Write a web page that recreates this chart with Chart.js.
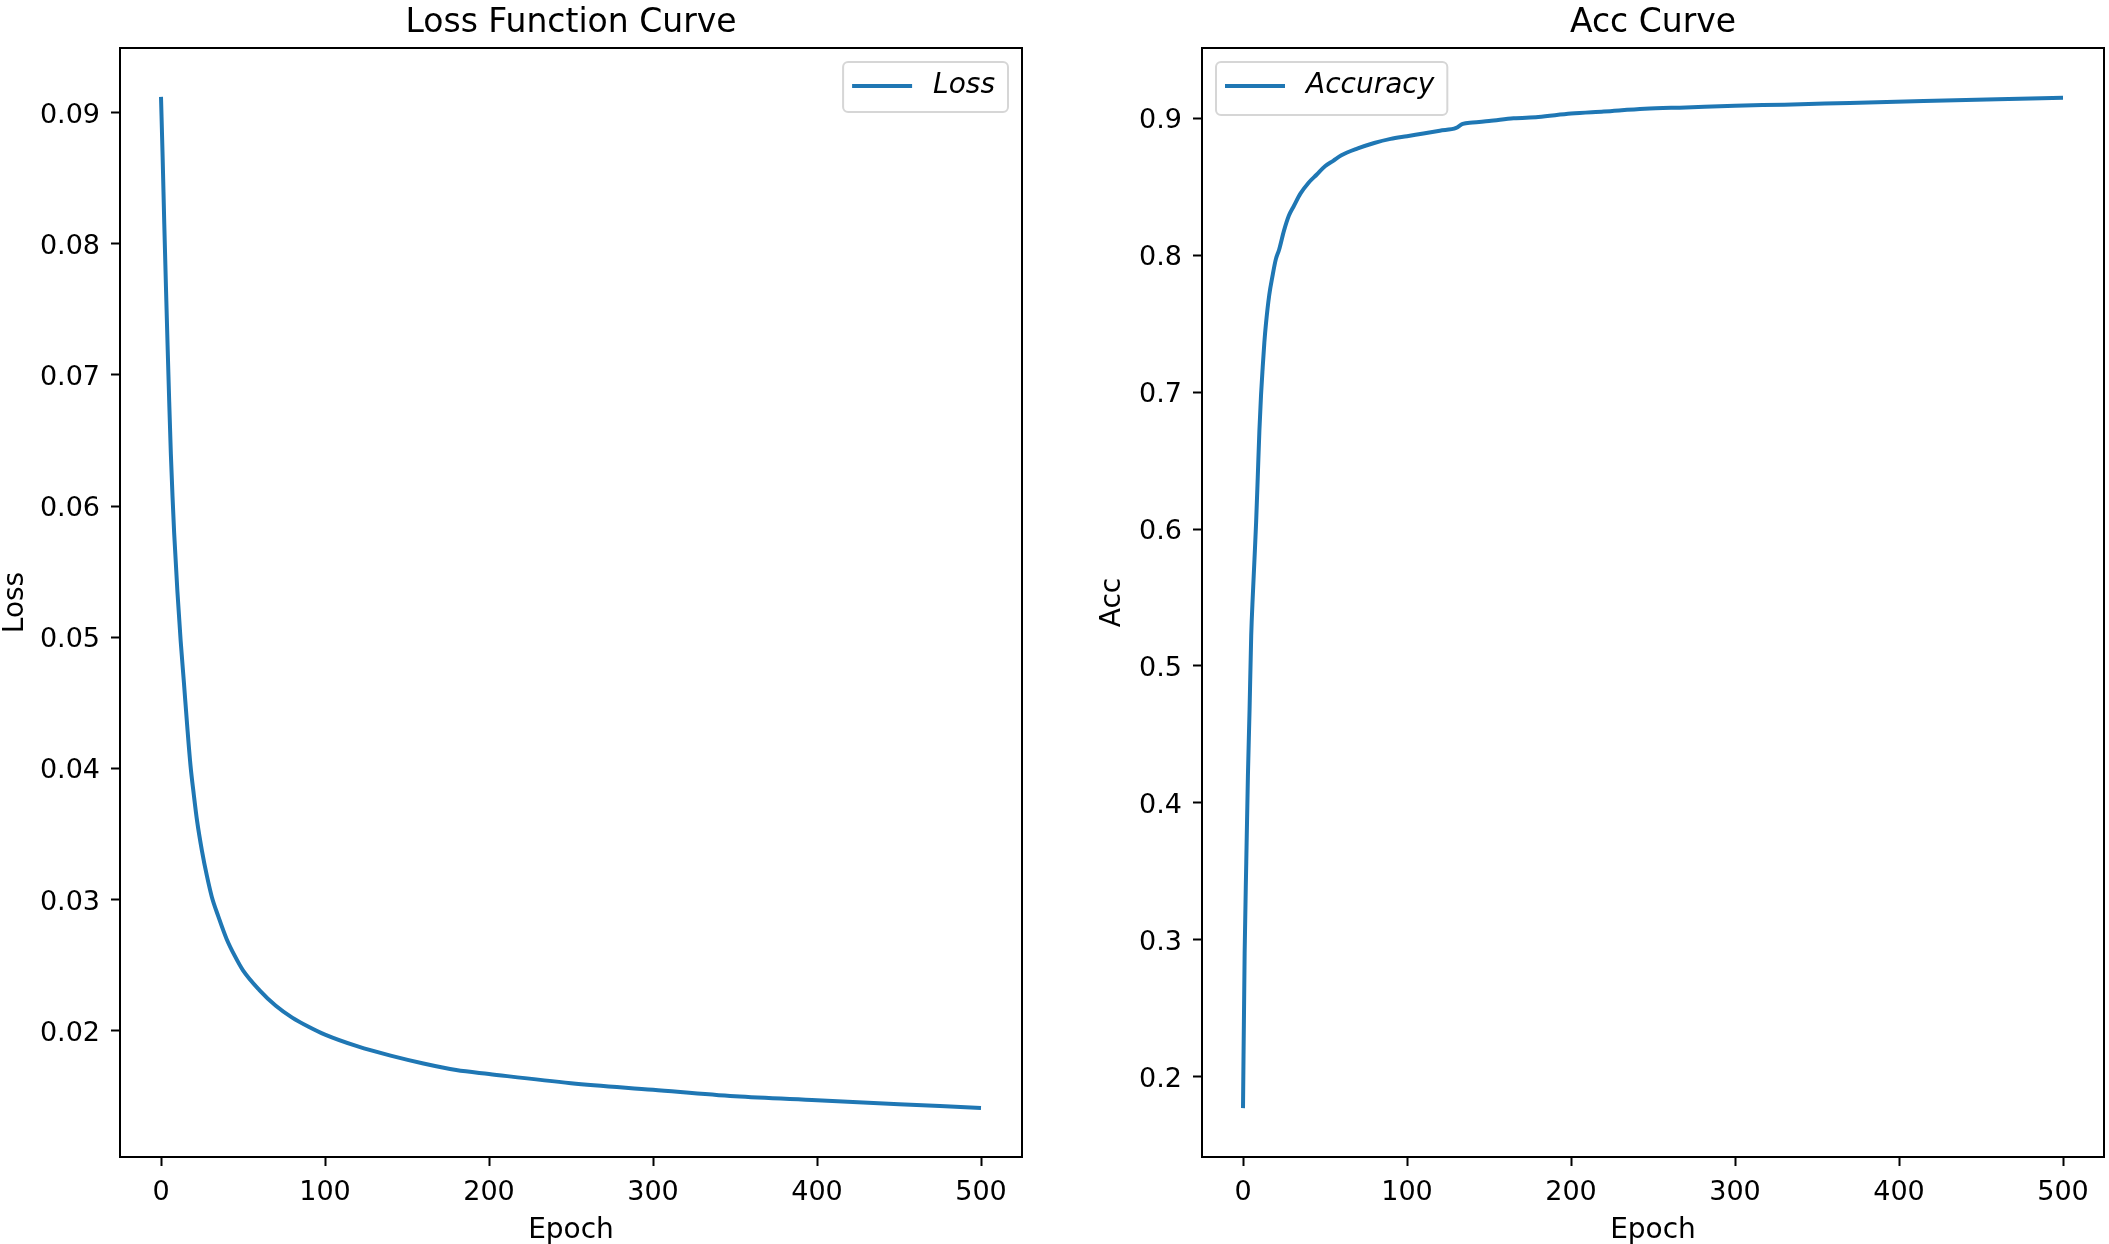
<!DOCTYPE html>
<html>
<head>
<meta charset="utf-8">
<title>Loss / Acc Curve</title>
<script src="https://cdn.jsdelivr.net/npm/chart.js@4.4.0/dist/chart.umd.min.js"></script>
<style>
  body { margin: 0; background: #fff; }
  #wrap { position: relative; width: 2109px; height: 1244px; }
  canvas { position: absolute; top: 0; }
  #lossChart { left: 0; }
  #accChart { left: 1054px; }
</style>
</head>
<body>
<div id="wrap">
  <canvas id="lossChart" width="1054" height="1244"></canvas>
  <canvas id="accChart" width="1055" height="1244"></canvas>
</div>
<script>
// values
const lossEpochs = [0, 1, 2, 3, 4, 5, 6, 7, 8, 10, 12, 14, 16, 18, 20, 22, 25, 28, 31, 35,
  40, 45, 50, 60, 70, 80, 90, 100, 120, 140, 160, 180, 200, 250, 300, 350, 400, 450, 500];
const lossValues = [0.0912, 0.0866, 0.0815, 0.0768, 0.0723, 0.0680, 0.0640, 0.0608, 0.0580, 0.0535,
  0.0497, 0.0465, 0.0432, 0.0402, 0.0380, 0.0360, 0.0337, 0.0318, 0.0302, 0.0287,
  0.0270, 0.0257, 0.0246, 0.0231, 0.0219, 0.0210, 0.0203, 0.0197, 0.0188, 0.0181,
  0.0175, 0.0170, 0.0167, 0.0160, 0.0155, 0.0150, 0.0147, 0.0144, 0.0141];

const accEpochs = [0, 1, 2, 3, 4, 5, 6, 7, 8, 9, 10, 11, 12, 13, 14, 16, 18, 20, 22, 25,
  28, 31, 35, 40, 45, 50, 55, 60, 70, 80, 90, 100, 110, 120, 130, 134, 140, 150, 165, 180,
  200, 220, 245, 270, 300, 330, 370, 415, 460, 500];
const accValues = [0.177, 0.290, 0.357, 0.420, 0.468, 0.522, 0.552, 0.578, 0.605, 0.638,
  0.672, 0.698, 0.718, 0.736, 0.750, 0.771, 0.785, 0.797, 0.804, 0.818,
  0.829, 0.836, 0.845, 0.853, 0.859, 0.865, 0.869, 0.873, 0.878, 0.882,
  0.885, 0.887, 0.889, 0.891, 0.893, 0.896, 0.897, 0.898, 0.900, 0.901,
  0.9035, 0.905, 0.907, 0.908, 0.9093, 0.910, 0.9113, 0.9127, 0.914, 0.915];

const epochTicks = [0, 100, 200, 300, 400, 500];
const lossTicks = [0.02, 0.03, 0.04, 0.05, 0.06, 0.07, 0.08, 0.09];
const accTicks = [0.2, 0.3, 0.4, 0.5, 0.6, 0.7, 0.8, 0.9];

const lineBlue = '#1f77b4';
const fontFamily = "'DejaVu Sans', sans-serif";

Chart.defaults.font.family = fontFamily;
Chart.defaults.color = '#000';

// title, right/top spines and a matplotlib style legend
const framePlugin = {
  id: 'frame',
  afterDatasetsDraw(chart, args, opts) {
    const ctx = chart.ctx;
    const a = chart.chartArea;
    const ds = chart.data.datasets[0];

    ctx.save();
    ctx.font = 'italic 28px ' + fontFamily;
    const textW = ctx.measureText(ds.label).width;
    const w = 9 + 60 + 21 + textW + 13;
    const h = opts.legendHeight;
    const x = opts.legendSide === 'right' ? a.right - 14 - w : a.left + 14;
    const y = a.top + 14;

    ctx.beginPath();
    ctx.roundRect(x, y, w, h, 5);
    ctx.fillStyle = 'rgba(255,255,255,0.8)';
    ctx.fill();
    ctx.lineWidth = 2;
    ctx.strokeStyle = '#d6d6d6';
    ctx.stroke();

    ctx.beginPath();
    ctx.moveTo(x + 9, y + 24);
    ctx.lineTo(x + 69, y + 24);
    ctx.lineWidth = 4;
    ctx.strokeStyle = ds.borderColor;
    ctx.stroke();

    ctx.fillStyle = '#000';
    ctx.textAlign = 'left';
    ctx.textBaseline = 'middle';
    ctx.fillText(ds.label, x + 90, y + 24);
    ctx.restore();
  },
  afterDraw(chart, args, opts) {
    const ctx = chart.ctx;
    const a = chart.chartArea;
    ctx.save();
    ctx.lineWidth = 2;
    ctx.strokeStyle = '#000';
    ctx.strokeRect(a.left, a.top, a.right - a.left, a.bottom - a.top);

    ctx.font = '33px ' + fontFamily;
    ctx.fillStyle = '#000';
    ctx.textAlign = 'center';
    ctx.textBaseline = 'alphabetic';
    ctx.fillText(opts.title, (a.left + a.right) / 2, 32);
    ctx.restore();
  }
};

function makeChart(canvasId, cfg) {
  const points = cfg.epochs.map(function (e, i) {
    return { x: e, y: cfg.values[i] };
  });

  return new Chart(document.getElementById(canvasId), {
    type: 'line',
    data: {
      datasets: [{
        label: cfg.label,
        data: points,
        borderColor: lineBlue,
        borderWidth: 4,
        pointRadius: 0,
        cubicInterpolationMode: 'monotone',
        fill: false
      }]
    },
    options: {
      responsive: false,
      animation: false,
      events: [],
      layout: { padding: { top: 48, right: cfg.padRight, left: 0, bottom: 0 } },
      plugins: {
        legend: { display: false },
        tooltip: { enabled: false },
        frame: { title: cfg.title, legendSide: cfg.legendSide, legendHeight: cfg.legendHeight }
      },
      scales: {
        x: {
          type: 'linear',
          min: -25,
          max: 525,
          afterFit: function (scale) { scale.height = 87; },
          afterBuildTicks: function (scale) {
            scale.ticks = epochTicks.map(function (v) { return { value: v }; });
          },
          ticks: {
            font: { size: 27 },
            padding: 11,
            maxRotation: 0,
            callback: function (v) { return String(v); }
          },
          grid: { drawOnChartArea: false, tickLength: 9, tickWidth: 2, tickColor: '#000' },
          border: { display: true, color: '#000', width: 2 },
          title: { display: true, text: 'Epoch', font: { size: 28 }, padding: { top: 0, bottom: -4 } }
        },
        y: {
          type: 'linear',
          min: cfg.yMin,
          max: cfg.yMax,
          afterFit: function (scale) { scale.width = cfg.yWidth; },
          afterBuildTicks: function (scale) {
            scale.ticks = cfg.yTicks.map(function (v) { return { value: v }; });
          },
          ticks: {
            font: { size: 27 },
            padding: 11,
            labelOffset: 3,
            callback: function (v) { return v.toFixed(cfg.decimals); }
          },
          grid: { drawOnChartArea: false, tickLength: 9, tickWidth: 2, tickColor: '#000' },
          border: { display: true, color: '#000', width: 2 },
          title: { display: true, text: cfg.yLabel, font: { size: 28 }, padding: { top: cfg.yTitlePad, bottom: 0 } }
        }
      }
    },
    plugins: [framePlugin]
  });
}

makeChart('lossChart', {
  epochs: lossEpochs,
  values: lossValues,
  label: 'Loss',
  title: 'Loss Function Curve',
  yLabel: 'Loss',
  yTicks: lossTicks,
  decimals: 2,
  yMin: 0.01037,
  yMax: 0.09493,
  yWidth: 120,
  yTitlePad: -1,
  padRight: 32,
  legendSide: 'right',
  legendHeight: 50
});

makeChart('accChart', {
  epochs: accEpochs,
  values: accValues,
  label: 'Accuracy',
  title: 'Acc Curve',
  yLabel: 'Acc',
  yTicks: accTicks,
  decimals: 1,
  yMin: 0.1413,
  yMax: 0.9514,
  yWidth: 148,
  yTitlePad: 42,
  padRight: 5,
  legendSide: 'left',
  legendHeight: 53
});
</script>
</body>
</html>
